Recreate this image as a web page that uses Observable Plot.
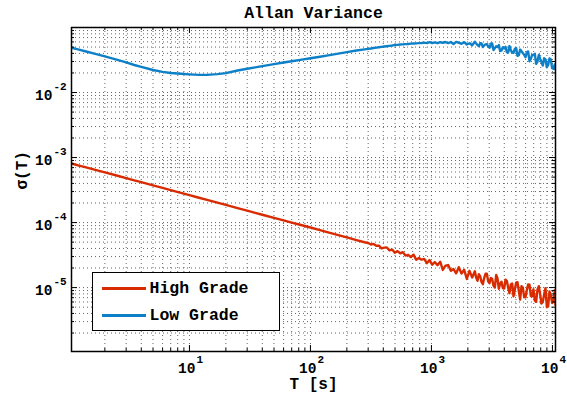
<!DOCTYPE html>
<html><head><meta charset="utf-8">
<script src="https://cdn.jsdelivr.net/npm/d3@7"></script>
<script src="https://cdn.jsdelivr.net/npm/@observablehq/plot@0.6"></script>
<style>
body{margin:0;background:#fff;}
#wrap{position:relative;width:567px;height:393px;font-family:"Liberation Mono","Courier New",monospace;font-weight:bold;}
#legend{position:absolute;left:92px;top:272px;width:188px;height:59px;box-sizing:border-box;border:1.5px solid #000;background:#fff;}
.sw{position:absolute;left:8.5px;width:44px;height:2.5px;}
.lab{position:absolute;left:56.5px;font-size:16.5px;line-height:16.5px;white-space:nowrap;color:#000;}
</style></head><body><div id="wrap"></div>
<script>
const title = "Allan Variance";
const xLabel = "T [s]";
const yLabel = "σ(T)";
const seriesNames = ["High Grade", "Low Grade"];
const seriesColors = ["#d92b00", "#0d80c8"];

const tau = [1.06,1.2,1.4,1.7,2,2.5,3,3.5,4,5,6,7,8.5,10,12,14,17,20,25,30,35,40,50,60,70,85,100,120,140,170,200,240,280,
300,316,332,350,368,387,407,428,450,474,498,524,552,580,610,642,676,711,748,787,828,871,916,964,1014,1067,1122,1181,1242,1307,1375,1447,1522,1601,1684,1772,1864,1961,2063,2171,2284,2403,2528,2659,2798,2943,3097,3258,3427,3606,3793,3991,4198,4417,4647,4888,5143,5410,5692,5988,6300,6627,6972,7335,7717,8119,8541,8986,9453,9945,10463,10600];

const highGrade = [8.1e-4,7.6e-4,7.05e-4,6.4e-4,5.9e-4,5.3e-4,4.82e-4,4.46e-4,4.18e-4,3.74e-4,3.41e-4,3.16e-4,2.87e-4,2.64e-4,2.41e-4,2.23e-4,2.03e-4,1.87e-4,1.67e-4,1.53e-4,1.41e-4,1.32e-4,1.18e-4,1.08e-4,1.0e-4,9.1e-5,8.4e-5,7.65e-5,7.05e-5,6.4e-5,5.9e-5,5.38e-5,4.98e-5,
4.85e-5,4.60e-5,4.69e-5,4.41e-5,4.42e-5,4.00e-5,4.12e-5,4.14e-5,3.73e-5,3.84e-5,3.44e-5,3.64e-5,3.37e-5,3.51e-5,3.11e-5,3.19e-5,2.95e-5,3.21e-5,2.69e-5,2.86e-5,2.69e-5,2.76e-5,2.37e-5,2.65e-5,2.25e-5,2.47e-5,2.21e-5,2.50e-5,1.87e-5,2.17e-5,2.22e-5,1.81e-5,1.93e-5,1.66e-5,2.06e-5,1.64e-5,1.88e-5,1.36e-5,1.81e-5,1.43e-5,1.78e-5,1.27e-5,1.49e-5,1.13e-5,1.63e-5,1.25e-5,1.41e-5,1.07e-5,1.56e-5,9.59e-6,1.23e-5,9.68e-6,1.27e-5,8.20e-6,1.16e-5,9.33e-6,1.21e-5,6.53e-6,1.00e-5,7.08e-6,1.12e-5,7.43e-6,9.40e-6,6.04e-6,1.05e-5,5.66e-6,7.85e-6,4.99e-6,8.75e-6,5.78e-6,9.14e-6,5.43e-6];

const lowGrade = [0.0488,0.0460,0.0428,0.0390,0.0360,0.0321,0.0290,0.0265,0.0248,0.0222,0.0208,0.0200,0.0194,0.0190,0.0187,0.0187,0.0192,0.0199,0.0218,0.0232,0.0244,0.0255,0.0273,0.0290,0.0303,0.0321,0.0336,0.0355,0.0373,0.0397,0.0419,0.0442,0.0461,
0.0470,0.0476,0.0483,0.0490,0.0497,0.0504,0.0511,0.0516,0.0522,0.0528,0.0535,0.0541,0.0547,0.0551,0.0555,0.0558,0.0564,0.0568,0.0571,0.0574,0.0577,
0.0586,0.0575,0.0594,0.0578,0.0590,0.0574,0.0594,0.0583,0.0598,0.0577,0.0597,0.0557,0.0600,0.0583,0.0562,0.0596,0.0548,0.0573,0.0533,0.0603,0.0538,0.0574,0.0501,0.0551,0.0513,0.0562,0.0449,0.0516,0.0537,0.0444,0.0476,0.0415,0.0518,0.0411,0.0469,0.0367,0.0458,0.0405,0.0349,0.0429,0.0329,0.0378,0.0276,0.0378,0.0293,0.0336,0.0245,0.0335,0.0236,0.0271,0.0227];

// extra samples read in the noisiest stretch (between the samples above)
const tauExtra = [2343,2465,2593,2728,2870,3019,3176,3342,3515,3698,3891,4093,4306,4530,4766,5014,5275,5549,5838,6142,6461,6798,7151,7524,7915,8327,8761,9217,9696,10201];
const highExtra = [1.43e-5,1.61e-5,1.22e-5,1.40e-5,1.64e-5,1.17e-5,1.36e-5,1.00e-5,1.39e-5,1.16e-5,9.85e-6,1.32e-5,9.95e-6,1.12e-5,7.33e-6,1.19e-5,8.87e-6,1.05e-5,7.17e-6,9.06e-6,1.11e-5,7.35e-6,6.31e-6,9.37e-6,7.83e-6,6.05e-6,9.82e-6,5.12e-6,7.69e-6,6.22e-6];
const lowExtra = [0.0567,0.0515,0.0569,0.0530,0.0556,0.0488,0.0570,0.0481,0.0500,0.0433,0.0498,0.0505,0.0412,0.0448,0.0407,0.0485,0.0375,0.0431,0.0382,0.0417,0.0303,0.0378,0.0393,0.0299,0.0329,0.0260,0.0323,0.0265,0.0322,0.0231];

const xTickValues = [10, 100, 1000, 10000];
const xTickExponents = ["1", "2", "3", "4"];
const yTickValues = [1e-5, 1e-4, 1e-3, 1e-2];
const yTickExponents = ["-5", "-4", "-3", "-2"];

const W = 567, H = 393, mL = 71, mR = 12, mT = 27, mB = 42;
const fw = W - mL - mR, fh = H - mT - mB;
const font = "'Liberation Mono','Courier New',monospace";

const rows = [];
function addSeries(name, ts, vs) {
  ts.forEach((t, i) => rows.push({tau: t, sigma: vs[i], series: name}));
}
addSeries(seriesNames[0], tau, highGrade);
addSeries(seriesNames[0], tauExtra, highExtra);
addSeries(seriesNames[1], tau, lowGrade);
addSeries(seriesNames[1], tauExtra, lowExtra);
rows.sort((a, b) => (a.series === b.series ? a.tau - b.tau : seriesNames.indexOf(a.series) - seriesNames.indexOf(b.series)));

const xDomain = [1.06, 10600], yDomain = [1.04e-6, 0.1];
const minorX = [], majorX = [], minorY = [], majorY = [];
for (let e = 0; e <= 4; e++) for (let m = 1; m <= 9; m++) {
  const v = m * Math.pow(10, e);
  if (v > xDomain[0] && v < xDomain[1]) (m === 1 ? majorX : minorX).push(v);
}
for (let e = -6; e <= -2; e++) for (let m = 1; m <= 9; m++) {
  const v = m * Math.pow(10, e);
  if (v > yDomain[0] && v < yDomain[1]) (m === 1 ? majorY : minorY).push(v);
}

const grid = {stroke: "#333", strokeOpacity: 0.75, strokeDasharray: "1,3", strokeWidth: 1};
const tk = {stroke: "#000", strokeWidth: 1};

const chart = Plot.plot({
  width: W, height: H,
  marginLeft: mL, marginRight: mR, marginTop: mT, marginBottom: mB,
  style: {fontFamily: font, fontWeight: "bold", color: "#000", background: "#fff"},
  x: {type: "log", domain: xDomain, axis: null},
  y: {type: "log", domain: yDomain, axis: null},
  color: {domain: seriesNames, range: seriesColors},
  marks: [
    Plot.ruleX(minorX.concat(majorX), {x: d => d, ...grid}),
    Plot.ruleY(minorY.concat(majorY), {y: d => d, ...grid}),
    Plot.line(rows, {x: "tau", y: "sigma", z: "series", stroke: "series", strokeWidth: 2.4, clip: true}),
    Plot.ruleX(majorX, {x: d => d, insetTop: fh - 6, ...tk}),
    Plot.ruleX(minorX, {x: d => d, insetTop: fh - 3, ...tk}),
    Plot.ruleX(majorX, {x: d => d, insetBottom: fh - 6, ...tk}),
    Plot.ruleX(minorX, {x: d => d, insetBottom: fh - 3, ...tk}),
    Plot.ruleY(majorY, {y: d => d, insetRight: fw - 6, ...tk}),
    Plot.ruleY(minorY, {y: d => d, insetRight: fw - 3, ...tk}),
    Plot.ruleY(majorY, {y: d => d, insetLeft: fw - 6, ...tk}),
    Plot.ruleY(minorY, {y: d => d, insetLeft: fw - 3, ...tk}),
    Plot.frame({stroke: "#000", strokeWidth: 1.5}),
    Plot.text(xTickValues, {x: d => d, text: () => "10", frameAnchor: "bottom", dy: 21, dx: 6, textAnchor: "end", lineAnchor: "bottom", fontSize: 14.5, fill: "#000"}),
    Plot.text(xTickValues, {x: d => d, text: (d, i) => xTickExponents[i], frameAnchor: "bottom", dy: 11, dx: 7, textAnchor: "start", lineAnchor: "bottom", fontSize: 11, fill: "#000"}),
    Plot.text(yTickValues, {y: d => d, text: () => "10", frameAnchor: "left", dx: -19, dy: 7, textAnchor: "end", lineAnchor: "bottom", fontSize: 14.5, fill: "#000"}),
    Plot.text(yTickValues, {y: d => d, text: (d, i) => yTickExponents[i], frameAnchor: "left", dx: -18, dy: -3, textAnchor: "start", lineAnchor: "bottom", fontSize: 11, fill: "#000"}),
    Plot.text([title], {text: d => d, frameAnchor: "top", dy: -10, lineAnchor: "bottom", fontSize: 16.5, fill: "#000"}),
    Plot.text([xLabel], {text: d => d, frameAnchor: "bottom", dy: 37, lineAnchor: "bottom", fontSize: 16, fill: "#000"}),
    Plot.text([yLabel], {text: d => d, frameAnchor: "left", dx: -45, rotate: -90, lineAnchor: "bottom", fontSize: 16, fill: "#000"})
  ]
});

const wrap = document.getElementById("wrap");
wrap.appendChild(chart);
const legend = document.createElement("div");
legend.id = "legend";
seriesNames.forEach((name, i) => {
  const sw = document.createElement("div");
  sw.className = "sw";
  sw.style.top = (14.3 + 27 * i) + "px";
  sw.style.background = seriesColors[i];
  const lab = document.createElement("div");
  lab.className = "lab";
  lab.style.top = (7.5 + 27 * i) + "px";
  lab.textContent = name;
  legend.appendChild(sw);
  legend.appendChild(lab);
});
wrap.appendChild(legend);
</script>
</body></html>
